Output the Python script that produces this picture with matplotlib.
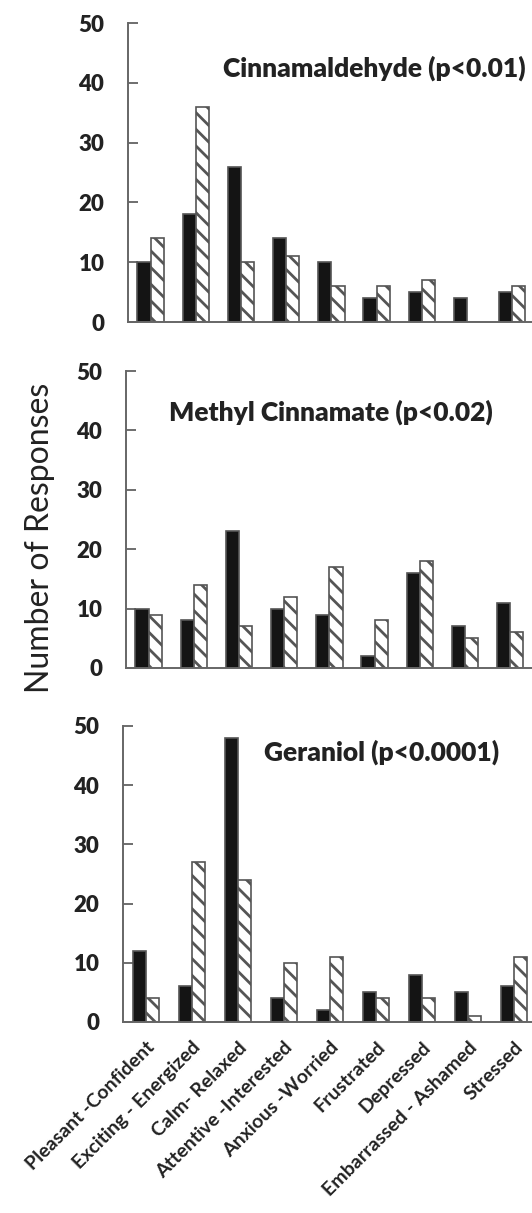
import numpy as np
import matplotlib.pyplot as plt

plt.rcParams['font.family'] = ['Lato', 'DejaVu Sans']
plt.rcParams['hatch.linewidth'] = 2.0
plt.rcParams['hatch.color'] = '#4a4a4a'

# emotion categories on the x axis
categories = ['Pleasant -Confident', 'Exciting - Energized', 'Calm- Relaxed',
              'Attentive -Interested', 'Anxious -Worried', 'Frustrated',
              'Depressed', 'Embarrassed - Ashamed', 'Stressed']

# panel titles
titles = ['Cinnamaldehyde (p<0.01)', 'Methyl Cinnamate (p<0.02)', 'Geraniol (p<0.0001)']

# solid (black) bars
cinn_black = [10, 18, 26, 14, 10, 4, 5, 4, 5]
meth_black = [10, 8, 23, 10, 9, 2, 16, 7, 11]
ger_black = [12, 6, 48, 4, 2, 5, 8, 5, 6]

# hatched bars
cinn_hatch = [14, 36, 10, 11, 6, 6, 7, 0, 6]
meth_hatch = [9, 14, 7, 12, 17, 8, 18, 5, 6]
ger_hatch = [4, 27, 24, 10, 11, 4, 4, 1, 11]

yticks = [0, 10, 20, 30, 40, 50]

W, H = 532, 1213
fig = plt.figure(figsize=(W / 100, H / 100), dpi=100)

# axes boxes in pixels: left, top(50), bottom(0), px per category
boxes = [(128, 23, 322, 45.2), (126, 371, 668, 45.2), (123, 726, 1022, 46.0)]
title_pos = [(223, 68), (169, 412), (264, 752)]

blacks = [cinn_black, meth_black, ger_black]
hatches = [cinn_hatch, meth_hatch, ger_hatch]

x = np.arange(len(categories))
bw = 0.29
for i, (left, top, bot, step) in enumerate(boxes):
    width = step * len(categories)
    ax = fig.add_axes([left / W, 1 - bot / H, width / W, (bot - top) / H])
    ax.bar(x - bw / 2, blacks[i], bw, color='#141414', edgecolor='#555555', linewidth=1.2)
    ax.bar(x + bw / 2, hatches[i], bw, color='white', edgecolor='#555555',
           linewidth=1.2, hatch='\\\\')
    ax.set_xlim(-0.5, len(categories) - 0.5)
    ax.set_ylim(0, 50)
    ax.set_yticks(yticks)
    ax.set_yticklabels([str(t) for t in yticks], fontweight='heavy', fontsize=16, color='#222222')
    ax.tick_params(axis='y', direction='in', length=7, width=1.2, color='#555555', pad=17)
    ax.tick_params(axis='x', length=0)
    for s in ['top', 'right']:
        ax.spines[s].set_visible(False)
    for s in ['left', 'bottom']:
        ax.spines[s].set_color('#666666')
        ax.spines[s].set_linewidth(1.4)
    ax.set_xticks(x)
    if i == 2:
        ax.set_xticklabels(categories, rotation=45, ha='right', rotation_mode='anchor',
                           fontweight='bold', fontsize=14, color='#222222')
        ax.tick_params(axis='x', pad=12)
    else:
        ax.set_xticklabels([])
    tx, ty = title_pos[i]
    fig.text(tx / W, 1 - ty / H, titles[i], fontsize=19, fontweight='heavy',
             color='#222222', ha='left', va='center')

fig.text(40 / W, 1 - 538 / H, 'Number of Responses', rotation=90, fontsize=23,
         color='#222222', ha='center', va='center')

fig.savefig('out.png', dpi=100)
